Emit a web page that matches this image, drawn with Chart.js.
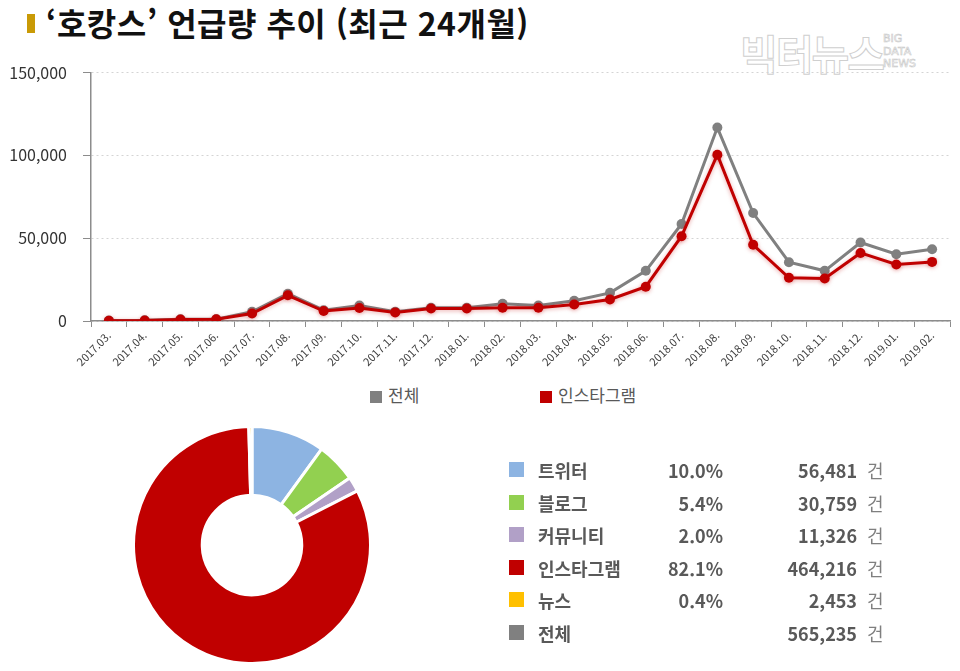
<!DOCTYPE html>
<html lang="ko">
<head>
<meta charset="utf-8">
<script src="https://cdn.jsdelivr.net/npm/chart.js@4"></script>
<style>
  body { margin: 0; background: #fff; font-family: "Noto Sans CJK KR", "Noto Sans", sans-serif; }
  #wrap { position: relative; width: 960px; height: 671px; overflow: hidden; }
  #titleBar { position: absolute; left: 27px; top: 14px; width: 8px; height: 19px; background: #c99a06; }
  #title { position: absolute; left: 46px; top: 1px; font-size: 32px; font-weight: bold; color: #111; line-height: 42px;
           letter-spacing: 0.5px; white-space: nowrap; }
  #mark { position: absolute; left: 740px; top: 27px; font-size: 41px; font-weight: bold; color: #fff;
          -webkit-text-stroke: 1px #cfcfcf; letter-spacing: -2px; line-height: 50px; }
  #markSub { position: absolute; left: 883px; top: 33px; font-size: 11px; line-height: 12.5px; color: #fff;
             -webkit-text-stroke: 0.6px #c8c8c8; font-family: "DejaVu Sans"; }
  #lineChart { position: absolute; left: 0; top: 47px; }
  #pieChart { position: absolute; left: 132px; top: 425px; }
  .lg { position: absolute; font-size: 17px; color: #595959; line-height: 20px; white-space: nowrap; }
  .lg i { display: inline-block; width: 12px; height: 12px; margin-right: 6px; vertical-align: -1px; }
  .row { position: absolute; left: 0; height: 30px; width: 960px; }
  .row span { position: absolute; top: 0; line-height: 30px; font-size: 18px; color: #595959; white-space: nowrap; }
  .row .sq { left: 509px; top: 7px; width: 15px; height: 15px; }
  .row .nm { left: 538px; font-weight: bold; }
  .row .pc { left: 620px; width: 103px; text-align: right; font-weight: bold; }
  .row .ct { left: 720px; width: 137px; text-align: right; font-weight: bold; }
  .row .un { left: 867px; color: #7f7f7f; }
</style>
</head>
<body>
<div id="wrap">
  <div id="titleBar"></div>
  <div id="title">‘호캉스’ 언급량 추이 (최근 24개월)</div>
  <div id="mark">빅터뉴스</div>
  <div id="markSub">BIG<br>DATA<br>NEWS</div>
  <canvas id="lineChart" width="960" height="328"></canvas>
  <div id="lineLegend"></div>
  <canvas id="pieChart" width="240" height="240"></canvas>
  <div id="table"></div>
</div>
<script>
// 월별 언급량
const months = ['2017.03.', '2017.04.', '2017.05.', '2017.06.', '2017.07.', '2017.08.', '2017.09.', '2017.10.',
  '2017.11.', '2017.12.', '2018.01.', '2018.02.', '2018.03.', '2018.04.', '2018.05.', '2018.06.', '2018.07.',
  '2018.08.', '2018.09.', '2018.10.', '2018.11.', '2018.12.', '2019.01.', '2019.02.'];
const totalSeries = [300, 400, 1000, 1100, 5600, 16500, 6500, 9400, 5600, 8000, 8000, 10400,
  9400, 12200, 17000, 30300, 58600, 116800, 65200, 35500, 30300, 47400, 40300, 43300];
const instaSeries = [200, 300, 900, 1000, 4500, 15500, 6000, 7800, 5200, 7600, 7600, 8000,
  8000, 10000, 13000, 20700, 51200, 100400, 46000, 26100, 25700, 41100, 34100, 35700];
const yTicks = [0, 50000, 100000, 150000];

// 채널별 합계
const channels = ['트위터', '블로그', '커뮤니티', '인스타그램', '뉴스'];
const channelShare = ['10.0%', '5.4%', '2.0%', '82.1%', '0.4%'];
const channelCount = [56481, 30759, 11326, 464216, 2453];
const channelColors = ['#8db4e2', '#92d050', '#b1a0c7', '#c00000', '#ffc000'];
const totalCount = 565235;

const GREY = '#808080';
const RED = '#c00000';

// 인스타그램 선에 옅은 그림자
const shadowPlugin = {
  id: 'redShadow',
  beforeDatasetDraw(chart, args) {
    if (args.index !== 0) return;
    const ctx = chart.ctx;
    ctx.save();
    ctx.shadowColor = 'rgba(192,0,0,0.35)';
    ctx.shadowBlur = 4;
    ctx.shadowOffsetY = 1;
  },
  afterDatasetDraw(chart, args) {
    if (args.index !== 0) return;
    chart.ctx.restore();
  }
};

// 선 그래프
new Chart(document.getElementById('lineChart'), {
  type: 'line',
  data: {
    labels: months,
    datasets: [
      { label: '인스타그램', data: instaSeries, borderColor: RED, backgroundColor: RED,
        borderWidth: 3, pointRadius: 5, pointBorderWidth: 0, tension: 0 },
      { label: '전체', data: totalSeries, borderColor: GREY, backgroundColor: GREY,
        borderWidth: 3, pointRadius: 5, pointBorderWidth: 0, tension: 0 }
    ]
  },
  options: {
    responsive: false,
    animation: false,
    devicePixelRatio: 1,
    layout: { padding: { top: 0, right: 10, left: 0, bottom: 0 } },
    plugins: { legend: { display: false }, tooltip: { enabled: false } },
    scales: {
      x: {
        offset: true,
        grid: { offset: true, drawOnChartArea: false, tickLength: 6, color: '#8c8c8c', tickColor: '#8c8c8c' },
        border: { color: '#8c8c8c', width: 1.5 },
        ticks: { minRotation: 45, maxRotation: 45, autoSkip: false, padding: 2,
          font: { family: 'Noto Sans CJK KR', size: 11 }, color: '#404040' },
        afterFit: s => { s.height = 54; }
      },
      y: {
        min: 0, max: 150000,
        afterBuildTicks: s => { s.ticks = yTicks.map(v => ({ value: v })); },
        grid: { color: '#d4d4d4', tickBorderDash: [], tickColor: '#8c8c8c', tickLength: 8 },
        border: { color: '#8c8c8c', width: 1.5, dash: [2, 3] },
        ticks: { padding: 16, font: { family: 'Noto Sans CJK KR', size: 16 }, color: '#333',
          callback: v => v.toLocaleString('en-US') },
        afterFit: s => { s.width = 91; }
      }
    }
  },
  plugins: [shadowPlugin]
});

// 선 그래프 범례
const legendItems = [['전체', GREY, 370], ['인스타그램', RED, 540]];
document.getElementById('lineLegend').innerHTML = legendItems.map(([name, color, x]) =>
  `<div class="lg" style="left:${x}px;top:385px"><i style="background:${color}"></i>${name}</div>`).join('');

// 도넛 그래프
new Chart(document.getElementById('pieChart'), {
  type: 'doughnut',
  data: {
    labels: channels,
    datasets: [{ data: channelCount, backgroundColor: channelColors, borderColor: '#fff', borderWidth: 3 }]
  },
  options: {
    responsive: false,
    animation: false,
    devicePixelRatio: 1,
    cutout: '42%',
    layout: { padding: 0 },
    plugins: { legend: { display: false }, tooltip: { enabled: false } }
  }
});

// 채널 표
let html = '';
const rows = channels.map((c, i) => [c, channelColors[i], channelShare[i], channelCount[i]]);
rows.push(['전체', GREY, '', totalCount]);
rows.forEach(([name, color, share, count], i) => {
  const top = 455 + i * 32.6;
  html += `<div class="row" style="top:${top}px">
    <span class="sq" style="background:${color}"></span>
    <span class="nm">${name}</span>
    <span class="pc">${share}</span>
    <span class="ct">${count.toLocaleString('en-US')}</span>
    <span class="un">건</span></div>`;
});
document.getElementById('table').innerHTML = html;
</script>
</body>
</html>
